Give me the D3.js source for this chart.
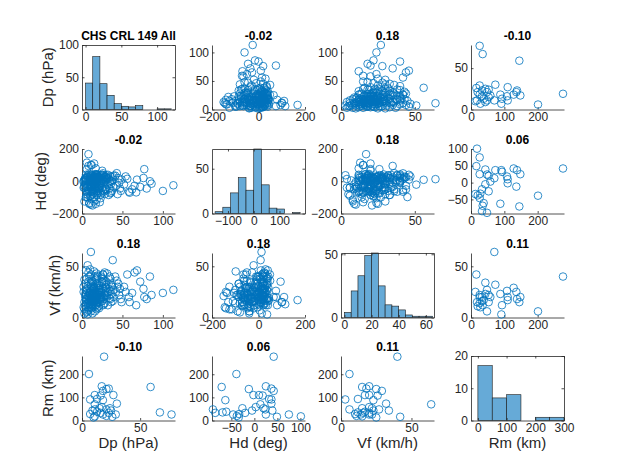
<!DOCTYPE html>
<html>
<head>
<meta charset="utf-8">
<script src="https://cdn.jsdelivr.net/npm/d3@7"></script>
<style>
body { margin: 0; background: #fff; }
text { font-family: "Liberation Sans", Arial, sans-serif; }
</style>
</head>
<body>
<div id="chart"></div>
<script>
// variable names (row / column labels)
var varNames = ["Dp (hPa)", "Hd (deg)", "Vf (km/h)", "Rm (km)"];

// panel titles (correlations), row by row
var titles = [
    ["CHS CRL 149 All", "-0.02", "0.18", "-0.10"],
    ["-0.02", "", "0.18", "0.06"],
    ["0.18", "0.18", "", "0.11"],
    ["-0.10", "0.06", "0.11", ""]
];

// storms; the first 34 also have an Rm value
var dp = [77,67,59,19,6,26,29,21,10,11,23,25,21,24,17,13,9,11,16,18,30,11,18,7,27,16,11,18,21,23,17,13,15,7,
    3,5,7,8,4,6,9,2,5,8,3,6,9,4,7,6,2,8,5,9,3,7,4,6,8,5,9,3,7,6,4,8,5,9,2,6,
    15,11,14,17,13,19,12,16,18,11,14,17,13,19,12,15,18,10,16,14,11,19,13,17,12,15,18,10,16,14,
    19,11,17,13,15,18,12,16,10,19,14,17,11,15,13,18,12,16,19,14,11,17,13,15,18,10,16,12,19,14,17,11,15,13,18,16,
    22,25,28,21,24,27,23,26,29,22,25,28,21,24,27,23,26,29,22,25,28,21,24,27,23,26,29,22,25,28,
    38,32,35,37,31,34,36,33,39,30,35,32,37,34,31,36,39,33,38,30,35,
    42,45,48,41,46,44,49,43,47,52,56,58,54,65,68,62,72,76,80,84,86,100,113];
var hd = [75,-69,-71,42,-39,49,-46,-38,-34,101,-85,39,24,20,3,-61,-5,-90,-20,25,37,13,-63,37,-2,18,10,42,-12,37,25,32,-26,-33,
    -125,-95,-21,168,20,75,-140,-40,10,95,-30,-80,22,5,-100,25,-5,-50,18,-135,8,-70,-15,115,5,-100,45,-40,27,-35,15,-62,40,-25,2,-65,
    -98,-145,20,-30,12,-75,100,5,-115,40,-55,80,-10,25,-110,24,-85,0,-40,17,-65,15,-150,35,-20,28,-38,30,-5,-70,
    35,-35,10,14,-125,9,-50,20,-90,21,-15,-140,0,110,-60,28,-25,26,-45,8,-33,44,-80,18,-8,11,-48,38,-60,19,-20,22,-38,3,-58,42,
    -28,15,-80,14,-10,35,-105,5,-50,22,-40,25,-48,6,-5,-65,18,10,-130,40,-25,20,-75,26,0,-55,30,-15,65,-62,
    9,-20,30,-60,12,-5,-70,15,-35,24,-75,40,0,-45,20,-15,35,-85,25,-55,5,
    -30,20,-60,35,-10,-80,10,50,-45,-20,15,-65,30,-28,10,-50,-35,20,-45,0,-15,-60,-25];
var vf = [20,12,15,40,6,42,22,11,25,15,20,34,27,22,20,17,23,6,16,14,32,64,23,3,20,26,17,29,25,18,20,12,15,10,
    8,22,51,17,12,26,9,30,18,35,15,5,40,20,14,28,10,44,17,24,37,21,33,13,7,27,19,4,31,18,23,12,46,16,25,38,
    45,10,22,18,30,25,15,40,8,19,28,12,35,20,16,24,33,13,6,27,42,17,21,38,9,29,14,47,23,11,
    32,26,20,4,30,15,36,18,22,41,16,25,31,20,13,43,19,24,10,28,34,17,23,21,37,14,19,26,22,33,12,18,29,24,20,16,
    20,35,14,27,40,18,24,12,30,22,16,44,9,25,33,19,28,21,15,38,26,31,22,13,17,42,24,29,20,36,
    56,25,18,32,22,40,15,28,20,35,26,12,30,19,43,23,27,33,16,29,38,
    25,33,18,40,22,30,15,36,28,30,42,20,25,44,46,24,35,28,18,40,22,24,27];
var rm = [26,35,145,276,201,16,26,20,13,18,33,43,48,53,58,38,43,48,33,26,73,70,88,91,110,108,110,128,136,138,148,93,53,28];

// histogram bins read from the diagonal
var dpEdges = [0,10,20,30,40,50,60,70,80,90,100,110,120];
var dpCounts = [41,82,40,22,9,5,4,6,0,0,1,1];
var hdEdges = [-150,-120,-90,-60,-30,0,30,60,90,120,150,180];
var hdCounts = [2,7,23,40,26,72,32,6,5,0,1];
var vfEdges = [0,5,10,15,20,25,30,35,40,45,50,55,60,65];
var vfCounts = [4,21,33,49,51,25,10,9,6,2,1,1,1];
var rmEdges = [0,50,100,150,200,250,300];
var rmCounts = [17,7,8,0,1,1];

var columns = [dp, hd, vf, rm];
var hists = [[dpEdges, dpCounts], [hdEdges, hdCounts], [vfEdges, vfCounts], [rmEdges, rmCounts]];

// axis limits and ticks of each panel
var lims = [
    [{ x: [-5, 125], xt: [0, 50, 100], y: [0, 100], yt: [0, 50, 100] },
     { x: [-200, 200], xt: [-200, 0, 200], y: [0, 113], yt: [0, 50, 100] },
     { x: [0, 63], xt: [0, 50], y: [0, 113], yt: [0, 50, 100] },
     { x: [0, 279], xt: [0, 100, 200], y: [0, 78], yt: [0, 50] }],
    [{ x: [0, 115], xt: [0, 50, 100], y: [-200, 200], yt: [-200, 0, 200] },
     { x: [-162, 199], xt: [-100, 0, 100], y: [0, 72], yt: [0, 50] },
     { x: [0, 63], xt: [0, 50], y: [-200, 200], yt: [-200, 0, 200] },
     { x: [0, 279], xt: [0, 100, 200], y: [-92, 100], yt: [-50, 0, 50, 100] }],
    [{ x: [0, 115], xt: [0, 50, 100], y: [0, 63], yt: [0, 50] },
     { x: [-200, 200], xt: [-200, 0, 200], y: [0, 63], yt: [0, 50] },
     { x: [-2.5, 66], xt: [0, 20, 40, 60], y: [0, 51], yt: [0, 50] },
     { x: [0, 279], xt: [0, 100, 200], y: [0, 63], yt: [0, 50] }],
    [{ x: [0, 80], xt: [0, 50], y: [0, 279], yt: [0, 100, 200] },
     { x: [-92, 110], xt: [-50, 0, 50, 100], y: [0, 279], yt: [0, 100, 200] },
     { x: [0, 66], xt: [0, 50], y: [0, 279], yt: [0, 100, 200] },
     { x: [-24, 300], xt: [0, 100, 200, 300], y: [0, 20], yt: [0, 10, 20] }]
];

var colLeft = [82, 212, 341, 471];
var rowTop = [45, 149, 253, 356];
var pw = 93, ph = 64.5;
var axisColor = "#262626";
var blue = "#0072BD";

var svg = d3.select("#chart").append("svg")
    .attr("width", 623)
    .attr("height", 472);

function styleAxis(g, labels) {
    g.select(".domain").attr("stroke", axisColor).attr("stroke-width", 0.8);
    g.selectAll(".tick line").attr("stroke", axisColor).attr("stroke-width", 0.8);
    g.selectAll(".tick text")
        .attr("fill", axisColor)
        .style("font-size", "12px")
        .style("display", labels ? null : "none");
}

var firstLeftAxis = []; // left axis of the first column, used to place row labels

for (var r = 0; r < 4; r++) {
    for (var c = 0; c < 4; c++) {
        var lim = lims[r][c];
        var g = svg.append("g")
            .attr("transform", "translate(" + colLeft[c] + "," + rowTop[r] + ")");

        var x = d3.scaleLinear().domain(lim.x).range([0, pw]);
        var y = d3.scaleLinear().domain(lim.y).range([ph, 0]);
        var leftAxis;

        if (r === c) {
            // histogram on the diagonal, boxed
            var edges = hists[r][0], counts = hists[r][1];
            g.selectAll("rect.bar")
                .data(counts)
                .enter().append("rect")
                .attr("class", "bar")
                .attr("x", function (d, i) { return x(edges[i]); })
                .attr("width", function (d, i) { return x(edges[i + 1]) - x(edges[i]); })
                .attr("y", function (d) { return y(d); })
                .attr("height", function (d) { return y(0) - y(d); })
                .attr("fill", "#66AAD7")
                .attr("stroke", "#1a1a1a")
                .attr("stroke-width", 0.6);

            g.append("g").attr("transform", "translate(0," + ph + ")")
                .call(d3.axisBottom(x).tickValues(lim.xt).tickSizeInner(-2.5).tickSizeOuter(0).tickPadding(3))
                .call(styleAxis, true);
            leftAxis = g.append("g")
                .call(d3.axisLeft(y).tickValues(lim.yt).tickSizeInner(-2.5).tickSizeOuter(0).tickPadding(3))
                .call(styleAxis, true);
            g.append("g")
                .call(d3.axisTop(x).tickValues(lim.xt).tickSizeInner(-2.5).tickSizeOuter(0))
                .call(styleAxis, false);
            g.append("g").attr("transform", "translate(" + pw + ",0)")
                .call(d3.axisRight(y).tickValues(lim.yt).tickSizeInner(-2.5).tickSizeOuter(0))
                .call(styleAxis, false);
        } else {
            // scatter; panels with Rm only use storms that have Rm
            var useRm = (r === 3 || c === 3);
            var n = useRm ? rm.length : dp.length;
            var pts = d3.range(n).map(function (i) {
                return { x: columns[c][i], y: columns[r][i] };
            });

            g.append("g").attr("transform", "translate(0," + ph + ")")
                .call(d3.axisBottom(x).tickValues(lim.xt).tickSizeInner(-2.5).tickSizeOuter(0).tickPadding(3))
                .call(styleAxis, true);
            leftAxis = g.append("g")
                .call(d3.axisLeft(y).tickValues(lim.yt).tickSizeInner(-2.5).tickSizeOuter(0).tickPadding(3))
                .call(styleAxis, true);

            g.selectAll("circle")
                .data(pts)
                .enter().append("circle")
                .attr("cx", function (d) { return x(d.x); })
                .attr("cy", function (d) { return y(d.y); })
                .attr("r", 3.8)
                .attr("fill", "none")
                .attr("stroke", blue)
                .attr("stroke-width", 0.8);
        }

        if (c === 0) firstLeftAxis[r] = leftAxis;

        if (titles[r][c] !== "") {
            g.append("text")
                .text(titles[r][c])
                .attr("x", pw / 2)
                .attr("y", -5)
                .attr("text-anchor", "middle")
                .style("font-size", "12px")
                .style("font-weight", "bold")
                .attr("fill", "#000");
        }
    }
}

// row labels, placed just left of the widest tick label of the row
svg.selectAll(".rowLabel")
    .data(varNames)
    .enter().append("text")
    .attr("class", "rowLabel")
    .text(function (d) { return d; })
    .attr("transform", function (d, i) {
        var bb = firstLeftAxis[i].node().getBBox();
        var lx = colLeft[0] + bb.x - 6;
        return "translate(" + lx + "," + (rowTop[i] + ph / 2) + ") rotate(-90)";
    })
    .attr("text-anchor", "middle")
    .style("font-size", "15px")
    .attr("fill", axisColor);

// column labels
svg.selectAll(".colLabel")
    .data(varNames)
    .enter().append("text")
    .attr("class", "colLabel")
    .text(function (d) { return d; })
    .attr("x", function (d, i) { return colLeft[i] + pw / 2; })
    .attr("y", 448)
    .attr("text-anchor", "middle")
    .style("font-size", "15px")
    .attr("fill", axisColor);
</script>
</body>
</html>
